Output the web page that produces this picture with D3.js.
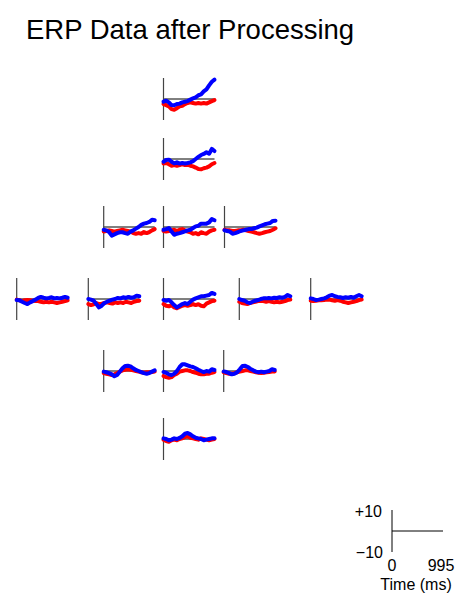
<!DOCTYPE html>
<html>
<head>
<meta charset="utf-8">
<script src="https://cdn.jsdelivr.net/npm/d3@7"></script>
<style>
  html, body { margin: 0; padding: 0; background: #fff; }
  svg { display: block; font-family: "Liberation Sans", Arial, Helvetica, sans-serif; }
</style>
</head>
<body>
<svg id="chart" width="475" height="598"></svg>
<script>
// ---------------- data ----------------
const title = "ERP Data after Processing";
const times = [0, 52, 105, 157, 209, 262, 314, 367, 419, 471, 524, 576, 628, 681, 733, 785, 838, 890, 943, 995];
const channels = ["Fpz", "Fz", "FC3", "FCz", "FC4", "T7", "C3", "Cz", "C4", "T8", "CP3", "CPz", "CP4", "Pz"];
const seriesNames = ["Condition A", "Condition B"]; // red, blue

// red condition (µV)
const redValues = [
  [-2.4,-2.9,-3.5,-4.8,-5.1,-4.4,-3.5,-3.2,-2.4,-1.9,-1.6,-1.9,-2.2,-1.9,-2.2,-1.9,-2.2,-1.6,-1.0,-0.5],
  [-2.1,-1.9,-2.5,-3.2,-2.9,-3.2,-2.9,-2.4,-2.9,-2.7,-3.2,-3.5,-4.1,-4.8,-4.9,-4.4,-4.1,-3.5,-2.5,-1.9],
  [-2.1,-1.9,-1.6,-1.9,-2.2,-1.9,-1.6,-1.3,-1.6,-1.9,-2.2,-2.9,-3.2,-2.9,-3.2,-2.4,-2.9,-2.4,-1.6,-1.0],
  [-1.9,-2.2,-1.9,-1.6,-1.3,-1.9,-1.3,-1.0,-1.6,-2.2,-2.5,-3.2,-2.9,-3.5,-2.5,-2.9,-3.2,-2.2,-1.6,-1.3],
  [-1.3,-1.6,-1.6,-1.9,-1.9,-1.6,-1.6,-1.3,-1.6,-1.9,-2.2,-2.5,-2.9,-3.2,-2.9,-2.5,-2.2,-1.9,-1.3,-0.6],
  [-0.3,-0.6,-1.0,-0.6,-0.5,-0.6,-0.8,-1.0,-1.0,-1.3,-1.6,-1.3,-1.6,-1.3,-1.6,-1.9,-1.6,-1.3,-1.0,-0.6],
  [-2.4,-2.9,-2.5,-1.9,-2.4,-2.2,-1.9,-1.6,-1.9,-2.2,-1.6,-1.9,-1.6,-1.9,-1.3,-1.6,-1.9,-1.3,-1.0,-0.8],
  [-2.4,-3.2,-3.5,-2.9,-4.0,-4.4,-3.8,-3.2,-2.9,-3.2,-2.9,-2.4,-2.9,-2.5,-3.2,-3.5,-2.2,-1.6,-1.0,-0.8],
  [-1.3,-1.9,-2.2,-2.4,-1.9,-1.6,-1.3,-1.0,-0.8,-1.0,-1.3,-1.0,-1.3,-1.6,-1.3,-1.6,-1.3,-1.0,-0.5,-0.3],
  [-0.8,-1.0,-0.8,-0.6,-0.6,-0.5,-0.3,-0.3,-0.6,-0.8,-0.5,-0.8,-1.3,-1.6,-1.9,-1.6,-1.3,-1.0,-0.5,-0.3],
  [-1.0,-1.3,-1.6,-1.9,-1.6,-1.0,-0.3, 0.3, 0.6, 0.8, 0.6, 0.3, 0.0,-0.3,-0.6,-0.8,-0.6,-0.6,-0.5,-0.3],
  [-2.4,-2.9,-3.2,-2.9,-1.9,-1.3,-0.3, 0.0, 0.3, 0.3, 0.0,-0.5,-0.8,-1.3,-1.6,-1.6,-1.3,-1.3,-0.8,-0.5],
  [-0.6,-1.0,-1.3,-1.3,-1.0,-0.6,-0.3, 0.0, 0.3, 0.3, 0.0,-0.3,-0.6,-0.8,-1.0,-0.8,-0.6,-0.5,-0.3,-0.2],
  [-0.3,-1.0,-1.3,-0.6,-0.3,-0.6, 0.0, 0.3, 1.0, 1.3, 0.6, 0.3, 0.0,-0.3, 0.3, 0.0,-0.3,-0.6,-0.3, 0.0]
];

// blue condition (µV)
const blueValues = [
  [-1.3,-0.8,-1.6,-2.9,-3.0,-2.4,-2.2,-1.6,-1.3,-1.0,-0.3, 0.3, 0.8, 1.8, 2.2, 3.6, 4.6, 6.5, 8.2, 9.2],
  [-1.3,-0.5,-0.3,-1.3,-2.1,-1.6,-2.2,-1.9,-2.1,-1.9,-1.6,-1.0, 0.0, 1.0, 1.9, 2.4, 3.2, 2.5, 4.8, 3.8],
  [-1.3,-1.6,-2.4,-4.1,-3.5,-2.9,-2.5,-2.5,-2.9,-3.2,-2.2,-1.6,-0.8, 0.0, 1.0, 1.6, 1.9, 2.4, 3.5, 3.2],
  [-1.3,-1.0,-0.5,-2.1,-3.7,-3.2,-2.9,-2.5,-2.1,-1.6,-1.3,-0.5, 0.3, 0.6, 1.6, 1.6, 1.6, 2.2, 3.8, 3.2],
  [-1.6,-1.9,-2.2,-3.2,-2.9,-2.4,-1.9,-1.6,-1.3,-1.0,-1.0,-0.6,-0.3, 0.3, 0.8, 1.3, 1.6, 1.9, 2.9, 3.0],
  [-0.5,-0.6,-1.3,-1.9,-2.4,-1.6,-1.0,-0.3, 0.5, 1.0, 0.6, 0.3, 0.5, 0.8, 0.3, 0.5, 0.3, 0.6, 1.0, 0.6],
  [ 0.0,-0.3,-0.8,-2.4,-4.0,-3.2,-1.9,-1.3,-0.8,-0.3, 0.0, 0.5, 0.3, 0.8, 0.5, 1.0, 0.6, 0.8, 1.6, 1.3],
  [-0.5,-0.8,-0.5,-1.6,-2.9,-4.0,-3.2,-2.4,-1.9,-2.4,-1.3,-0.3, 0.3, 0.8, 1.3, 1.3, 1.6, 1.9, 2.9, 2.4],
  [ 0.0,-0.5,-0.8,-1.6,-1.9,-1.3,-0.8,-0.5, 0.0, 0.3, 0.3, 0.5, 0.3, 0.6, 0.5, 0.8, 0.6, 1.0, 1.9, 1.3],
  [ 0.3, 0.0,-0.5,-0.3, 0.0, 0.3, 0.8, 1.6, 1.9, 1.3, 1.0, 0.8, 0.5, 0.8, 0.6, 1.0, 0.6, 1.3, 1.9, 1.3],
  [-0.3,-0.6,-1.0,-1.6,-2.5,-1.9,-0.3, 1.3, 2.4, 2.5, 2.2, 1.3, 0.5, 0.0,-0.5,-1.0,-1.3,-1.0,-0.3, 0.3],
  [-0.5,-0.8,-1.6,-1.9,-1.3, 0.0, 1.9, 3.2, 3.2, 2.7, 2.2, 1.9, 1.3, 0.6, 0.0,-0.5, 0.0,-0.3, 0.8, 0.5],
  [-0.2,-0.5,-1.0,-1.6,-1.3,-0.6, 0.8, 2.4, 2.5, 1.9, 1.0, 0.3,-0.3,-0.6,-0.3,-0.6,-0.3, 0.0, 0.8, 0.5],
  [ 0.3, 0.0,-0.6,-0.3, 0.3, 0.0, 0.5, 1.3, 2.5, 2.9, 2.2, 1.3, 0.6, 0.3, 0.0,-0.6,-0.3, 0.0, 0.3, 0.3]
];

const ampRange = [-10, 10];
const timeRange = [0, 995];
const scaleLabels = ["+10", "\u221210", "0", "995", "Time (ms)"];

// ---------------- layout (pixels, separate from data) ----------------
const panelLayout = [
  [163.5, 99], [163.5, 159],
  [103.7, 227], [163.5, 227], [224.5, 227],
  [16.7, 299], [88.3, 299], [163.5, 299], [239.3, 299], [310.7, 299],
  [103.7, 371], [163.5, 371], [223.7, 371],
  [163.5, 439]
];
const panelW = 51, panelHalfH = 21;
const colors = ["#ff0000", "#0000ff"];

const svg = d3.select("#chart");

svg.append("text")
  .attr("x", 26).attr("y", 39)
  .attr("font-size", 27.5)
  .attr("fill", "#000")
  .text(title);

const x = d3.scaleLinear().domain(timeRange).range([0, panelW]);
const y = d3.scaleLinear().domain(ampRange).range([panelHalfH, -panelHalfH]);
const line = d3.line().x((d, i) => x(times[i])).y(d => y(d));

channels.forEach((ch, ci) => {
  const [px, py] = panelLayout[ci];
  const g = svg.append("g").attr("transform", `translate(${px},${py})`);
  // baseline
  g.append("line")
    .attr("x1", x(timeRange[0])).attr("x2", x(timeRange[1]))
    .attr("y1", y(0)).attr("y2", y(0))
    .attr("stroke", "#000").attr("stroke-width", 1);
  // vertical axis
  g.append("line")
    .attr("x1", x(0)).attr("x2", x(0))
    .attr("y1", y(ampRange[1])).attr("y2", y(ampRange[0]))
    .attr("stroke", "#444").attr("stroke-width", 1.2);
  [redValues[ci], blueValues[ci]].forEach((vals, si) => {
    g.append("path")
      .attr("d", line(vals))
      .attr("fill", "none")
      .attr("stroke", colors[si])
      .attr("stroke-width", 4)
      .attr("stroke-linejoin", "round")
      .attr("stroke-linecap", "round");
  });
});

// scale legend
const lg = svg.append("g").attr("transform", "translate(392,531)");
lg.append("line")
  .attr("x1", 0).attr("x2", 0)
  .attr("y1", y(ampRange[1])).attr("y2", y(ampRange[0]))
  .attr("stroke", "#000").attr("stroke-width", 1);
lg.append("line")
  .attr("x1", x(timeRange[0])).attr("x2", x(timeRange[1]))
  .attr("y1", 0).attr("y2", 0)
  .attr("stroke", "#000").attr("stroke-width", 1);
const fs = 16;
lg.append("text").attr("x", -10).attr("y", -14).attr("text-anchor", "end").attr("font-size", fs).text(scaleLabels[0]);
lg.append("text").attr("x", -9).attr("y", 27).attr("text-anchor", "end").attr("font-size", fs).text(scaleLabels[1]);
lg.append("text").attr("x", x(timeRange[0])).attr("y", 40).attr("text-anchor", "middle").attr("font-size", fs).text(scaleLabels[2]);
lg.append("text").attr("x", x(timeRange[1]) - 2).attr("y", 40).attr("text-anchor", "middle").attr("font-size", fs).text(scaleLabels[3]);
lg.append("text").attr("x", 24).attr("y", 59).attr("text-anchor", "middle").attr("font-size", fs).text(scaleLabels[4]);
</script>
</body>
</html>
